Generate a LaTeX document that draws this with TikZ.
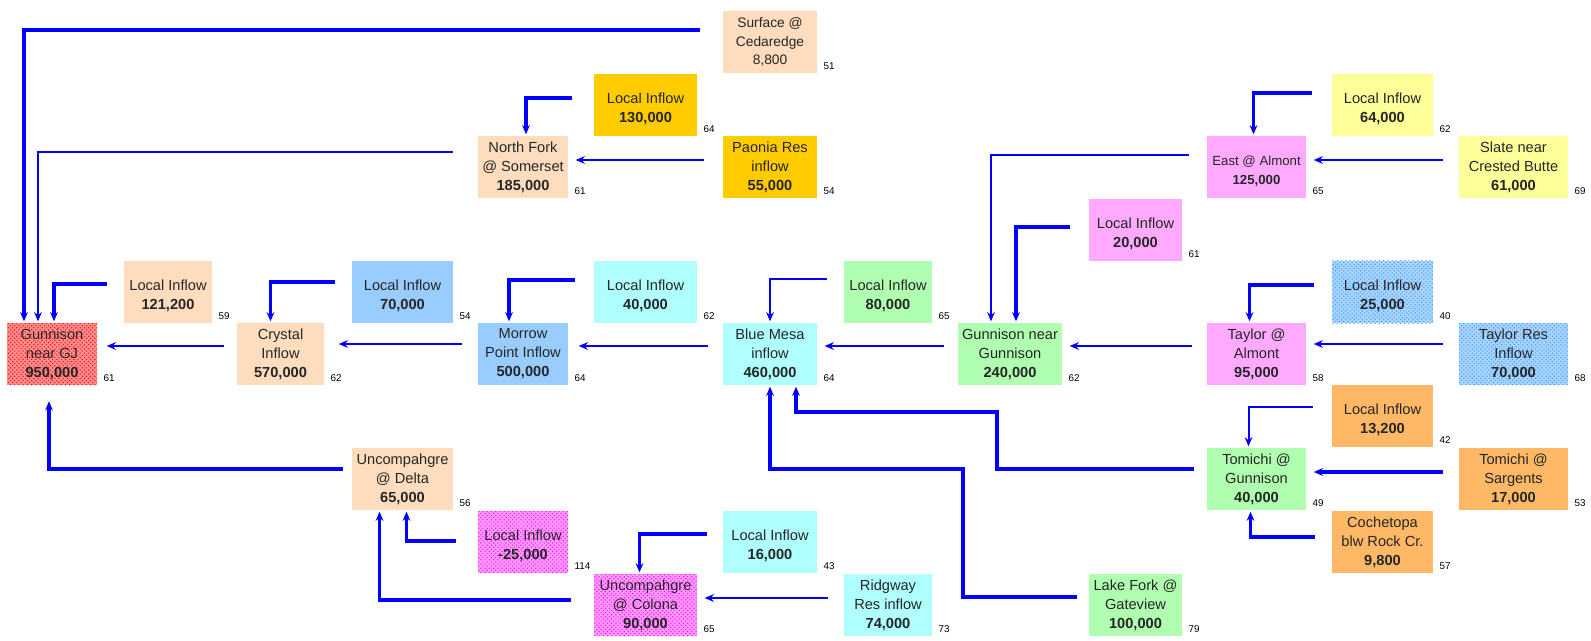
\documentclass[tikz,border=0pt]{standalone}
\usepackage{fontspec}
\setmainfont{Liberation Sans}
\usetikzlibrary{patterns,arrows.meta}
\definecolor{cpeach}{HTML}{FDDDBE}
\definecolor{cgold}{HTML}{FFCC00}
\definecolor{csky}{HTML}{99CCFF}
\definecolor{caqua}{HTML}{B0FFFF}
\definecolor{cmint}{HTML}{B0FFB0}
\definecolor{cpinkm}{HTML}{FFAAFF}
\definecolor{clemon}{HTML}{FFFF99}
\definecolor{capricot}{HTML}{FFB866}
\definecolor{credbg}{HTML}{FF8C8C}
\definecolor{cmagbg}{HTML}{FF99FF}
\definecolor{cbluebg}{HTML}{A8D4FF}
\definecolor{cbluedot}{HTML}{3399FF}
\tikzset{box/.style={minimum width=#1*0.025cm, minimum height=1.55cm, inner sep=0pt, align=center,
           font=\fontsize{10.4}{13.5}\selectfont, text=black!85},
         box/.default=94,
         numlab/.style={font=\fontsize{7}{8}\selectfont, anchor=south west, inner sep=0pt,
           xshift=0.15cm, yshift=0.08cm, text=black},
         redpat/.style={preaction={fill=credbg}, pattern=crosshatch dots, pattern color=red},
         magpat/.style={preaction={fill=cmagbg}, pattern=crosshatch dots, pattern color=magenta},
         bluepat/.style={preaction={fill=cbluebg}, pattern=crosshatch dots, pattern color=cbluedot},
         flow/.style={draw=blue, line width=1.4pt, -{Stealth[length=6.5pt,width=5.5pt]}, shorten >=1pt},
         bigflow/.style={flow, line width=2.4pt},
         thinflow/.style={flow, line width=1pt}}

\begin{document}
\begin{tikzpicture}[x=0.025cm, y=-0.025cm]
    \useasboundingbox (0,0) rectangle (1591,640);
    % gauges and inflows, left to right
    \node[box=90, redpat, label={[numlab]south east:61}] (gj) at (52,354) {Gunnison\\near GJ\\\textbf{950,000}};
    \node[box=88, fill=cpeach, label={[numlab]south east:59}] (l121) at (168,292) {\mbox{}\\Local Inflow\\\textbf{121,200}};
    \node[box=87, fill=cpeach, label={[numlab]south east:62}] (crystal) at (280.5,354) {Crystal\\Inflow\\\textbf{570,000}};
    \node[box=101, fill=csky, label={[numlab]south east:54}] (l70) at (402.5,292) {\mbox{}\\Local Inflow\\\textbf{70,000}};
    \node[box=101, fill=cpeach, label={[numlab]south east:56}] (delta) at (402.5,479) {Uncompahgre\\@ Delta\\\textbf{65,000}};
    \node[box=90, fill=cpeach, label={[numlab]south east:61}] (nfork) at (523,167) {North Fork\\@ Somerset\\\textbf{185,000}};
    \node[box=90, fill=csky, label={[numlab]south east:64}] (morrow) at (523,354) {Morrow\\Point Inflow\\\textbf{500,000}};
    \node[box=90, magpat, label={[numlab]south east:114}] (lneg) at (523,542) {\mbox{}\\Local Inflow\\\textbf{-25,000}};
    \node[box=103, fill=cgold, label={[numlab]south east:64}] (l130) at (645.5,105) {\mbox{}\\Local Inflow\\\textbf{130,000}};
    \node[box=103, fill=caqua, label={[numlab]south east:62}] (l40) at (645.5,292) {\mbox{}\\Local Inflow\\\textbf{40,000}};
    \node[box=103, magpat, label={[numlab]south east:65}] (colona) at (645.5,605) {Uncompahgre\\@ Colona\\\textbf{90,000}};
    \node[box=94, fill=cpeach, font=\fontsize{9.8}{13}\selectfont, label={[numlab]south east:51}] (surface) at (770,42) {Surface @\\Cedaredge\\8,800};
    \node[box=94, fill=cgold, label={[numlab]south east:54}] (paonia) at (770,167) {Paonia Res\\inflow\\\textbf{55,000}};
    \node[box=94, fill=caqua, label={[numlab]south east:64}] (bm) at (770,354) {Blue Mesa\\inflow\\\textbf{460,000}};
    \node[box=94, fill=caqua, label={[numlab]south east:43}] (l16) at (770,542) {\mbox{}\\Local Inflow\\\textbf{16,000}};
    \node[box=88, fill=cmint, label={[numlab]south east:65}] (l80) at (888,292) {\mbox{}\\Local Inflow\\\textbf{80,000}};
    \node[box=88, fill=caqua, label={[numlab]south east:73}] (ridgway) at (888,605) {Ridgway\\Res inflow\\\textbf{74,000}};
    \node[box=104, fill=cmint, label={[numlab]south east:62}] (gng) at (1010,354) {Gunnison near\\Gunnison\\\textbf{240,000}};
    \node[box=93, fill=cpinkm, label={[numlab]south east:61}] (l20) at (1135.5,230) {\mbox{}\\Local Inflow\\\textbf{20,000}};
    \node[box=93, fill=cmint, label={[numlab]south east:79}] (lakefork) at (1135.5,605) {Lake Fork @\\Gateview\\\textbf{100,000}};
    \node[box=99, fill=cpinkm, font=\fontsize{9.4}{13.5}\selectfont, label={[numlab]south east:65}] (east) at (1256.5,167) {\mbox{}\\East @ Almont\\\textbf{125,000}};
    \node[box=99, fill=cpinkm, label={[numlab]south east:58}] (taylor) at (1256.5,354) {Taylor @\\Almont\\\textbf{95,000}};
    \node[box=99, fill=cmint, label={[numlab]south east:49}] (tomichi) at (1256.5,479) {Tomichi @\\Gunnison\\\textbf{40,000}};
    \node[box=101, fill=clemon, label={[numlab]south east:62}] (l64) at (1382.5,105) {\mbox{}\\Local Inflow\\\textbf{64,000}};
    \node[box=101, bluepat, label={[numlab]south east:40}] (l25) at (1382.5,292) {\mbox{}\\Local Inflow\\\textbf{25,000}};
    \node[box=101, fill=capricot, label={[numlab]south east:42}] (l13) at (1382.5,416) {\mbox{}\\Local Inflow\\\textbf{13,200}};
    \node[box=101, fill=capricot, label={[numlab]south east:57}] (cochetopa) at (1382.5,542) {Cochetopa\\blw Rock Cr.\\\textbf{9,800}};
    \node[box=109, fill=clemon, label={[numlab]south east:69}] (slate) at (1513.5,167) {Slate near\\Crested Butte\\\textbf{61,000}};
    \node[box=109, bluepat, label={[numlab]south east:68}] (taylorres) at (1513.5,354) {Taylor Res\\Inflow\\\textbf{70,000}};
    \node[box=109, fill=capricot, label={[numlab]south east:53}] (sargents) at (1513.5,479) {Tomichi @\\Sargents\\\textbf{17,000}};
    \coordinate (tbend) at (997,412);
    \coordinate (lbend) at (963,469);

    % flows into Gunnison near GJ
    \draw[bigflow] ([shift={(-23,-12)}]surface.west) -| ([shift={(-28,0)}]gj.north);
    \draw[thinflow] ([shift={(-25,-15)}]nfork.west) -| ([shift={(-14,0)}]gj.north);
    \draw[bigflow] ([shift={(-17,-8)}]l121.west) -| ([shift={(2,0)}]gj.north);
    \draw[flow] ([shift={(-13,-8)}]crystal.west) -- ([shift={(8,-8)}]gj.east);
    \draw[bigflow, shorten >=0.4cm] ([shift={(-9,-10)}]delta.west) -| ([shift={(-3,0)}]gj.south);
    % main stem
    \draw[bigflow] ([shift={(-17,-10)}]l70.west) -| ([shift={(-10,0)}]crystal.north);
    \draw[flow] ([shift={(-16,-10)}]morrow.west) -- ([shift={(13,-10)}]crystal.east);
    \draw[bigflow] ([shift={(-19,-12)}]l40.west) -| ([shift={(-14,0)}]morrow.north);
    \draw[flow] ([shift={(-15,-8)}]bm.west) -- ([shift={(9,-8)}]morrow.east);
    \draw[flow] ([shift={(-17,-13)}]l80.west) -| (bm.north);
    \draw[flow] ([shift={(-14,-8)}]gng.west) -- ([shift={(6,-8)}]bm.east);
    \draw[bigflow] ([shift={(-13,-10)}]tomichi.west) -| (tbend) -| ([shift={(26,0)}]bm.south);
    \draw[bigflow] ([shift={(-12,-8)}]lakefork.west) -| (lbend) -| (bm.south);
    \draw[thinflow] ([shift={(-18,-12)}]east.west) -| ([shift={(-19,0)}]gng.north);
    \draw[bigflow] ([shift={(-19,-3)}]l20.west) -| ([shift={(6,0)}]gng.north);
    \draw[flow] ([shift={(-15,-8)}]taylor.west) -- ([shift={(6,-8)}]gng.east);
    % upper tributaries
    \draw[bigflow] ([shift={(-22,-7)}]l130.west) -| ([shift={(3,0)}]nfork.north);
    \draw[flow] ([shift={(-19,-7)}]paonia.west) -- ([shift={(6,-7)}]nfork.east);
    \draw[bigflow] ([shift={(-20,-12)}]l64.west) -| ([shift={(-3,0)}]east.north);
    \draw[flow] ([shift={(-16,-7)}]slate.west) -- ([shift={(6,-7)}]east.east);
    \draw[bigflow] ([shift={(-18,-7)}]l25.west) -| ([shift={(-7,0)}]taylor.north);
    \draw[flow] ([shift={(-16,-10)}]taylorres.west) -- ([shift={(6,-10)}]taylor.east);
    \draw[flow] ([shift={(-19,-9)}]l13.west) -| ([shift={(-8,0)}]tomichi.north);
    \draw[bigflow] ([shift={(-16,-7)}]sargents.west) -- ([shift={(6,-7)}]tomichi.east);
    \draw[bigflow] ([shift={(-17,-5)}]cochetopa.west) -| ([shift={(-6,0)}]tomichi.south);
    % Uncompahgre
    \draw[bigflow] ([shift={(-22,-1)}]lneg.west) -| ([shift={(4,0)}]delta.south);
    \draw[bigflow] ([shift={(-23,-5)}]colona.west) -| ([shift={(-23,0)}]delta.south);
    \draw[bigflow] ([shift={(-16,-8)}]l16.west) -| ([shift={(-6,0)}]colona.north);
    \draw[flow] ([shift={(-16,-7)}]ridgway.west) -- ([shift={(6,-7)}]colona.east);
\end{tikzpicture}
\end{document}
